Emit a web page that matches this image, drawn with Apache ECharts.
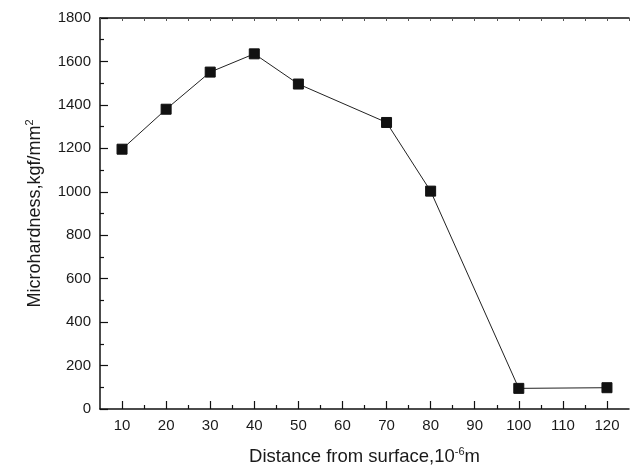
<!DOCTYPE html>
<html>
<head>
<meta charset="utf-8">
<script src="https://cdn.jsdelivr.net/npm/echarts@6/dist/echarts.min.js"></script>
<style>html,body{margin:0;padding:0;background:#fff}#c{width:630px;height:468px}</style>
</head>
<body>
<div id="c"></div>
<script>
const distance = [10, 20, 30, 40, 50, 70, 80, 100, 120];
const hardness = [1196, 1380, 1551, 1635, 1496, 1319, 1003, 95, 98];
const xTicks = [10, 20, 30, 40, 50, 60, 70, 80, 90, 100, 110, 120];
const xMinorTicks = [15, 25, 35, 45, 55, 65, 75, 85, 95, 105, 115];
const yTicks = [0, 200, 400, 600, 800, 1000, 1200, 1400, 1600, 1800];

const FONT = 'Liberation Sans, Arial, sans-serif';
const chart = echarts.init(document.getElementById('c'), null, {renderer: 'canvas'});
const lineCol = '#111';
chart.setOption({
  animation: false,
  backgroundColor: '#fff',
  grid: {left: 100, right: 1, top: 18, bottom: 59, containLabel: false, outerBoundsMode: 'none'},
  xAxis: [
    {
      type: 'value', min: 5, max: 125, position: 'bottom',
      axisLine: {show: true, onZero: false, lineStyle: {color: lineCol, width: 1.5}},
      axisTick: {show: true, inside: true, length: 8, customValues: xTicks, lineStyle: {color: lineCol, width: 1.2}},
      axisLabel: {show: true, customValues: xTicks, margin: 9, fontFamily: FONT, fontSize: 15, color: '#1a1a1a', formatter: v => String(v)},
      splitLine: {show: false},
      name: '{a|Distance from surface,10}{s|-6}{a|m}',
      nameLocation: 'middle', nameGap: 37,
      nameTextStyle: {
        fontFamily: FONT, color: '#1a1a1a',
        rich: {
          a: {fontFamily: FONT, fontSize: 18.5, color: '#1a1a1a', lineHeight: 20, verticalAlign: 'bottom'},
          s: {fontFamily: FONT, fontSize: 11, color: '#1a1a1a', lineHeight: 20, verticalAlign: 'top'}
        }
      }
    },
    {
      type: 'value', min: 5, max: 125, position: 'bottom',
      axisLine: {show: false, onZero: false},
      axisTick: {show: true, inside: true, length: 4, customValues: xMinorTicks, lineStyle: {color: lineCol, width: 1.2}},
      axisLabel: {show: false},
      splitLine: {show: false}
    },
    {
      type: 'value', min: 5, max: 125, interval: 5, position: 'top',
      axisLine: {show: true, onZero: false, lineStyle: {color: lineCol, width: 1.5}},
      axisTick: {show: true, inside: true, length: 3, lineStyle: {color: '#555', width: 1}},
      axisLabel: {show: false},
      splitLine: {show: false}
    }
  ],
  yAxis: [
    {
      type: 'value', min: 0, max: 1800, interval: 200, position: 'left',
      axisLine: {show: true, onZero: false, lineStyle: {color: lineCol, width: 1.5}},
      axisTick: {show: true, inside: true, length: 8, lineStyle: {color: lineCol, width: 1.2}},
      minorTick: {show: true, splitNumber: 2, length: 4, lineStyle: {color: lineCol, width: 1.2}},
      axisLabel: {show: true, customValues: yTicks, margin: 9, fontFamily: FONT, fontSize: 15, color: '#1a1a1a', formatter: v => String(v)},
      splitLine: {show: false},
      name: '{a|Microhardness,kgf/mm}{s|2}',
      nameLocation: 'middle', nameGap: 56, nameRotate: 90,
      nameTextStyle: {
        fontFamily: FONT, color: '#1a1a1a',
        rich: {
          a: {fontFamily: FONT, fontSize: 18, color: '#1a1a1a', lineHeight: 20, verticalAlign: 'bottom'},
          s: {fontFamily: FONT, fontSize: 11, color: '#1a1a1a', lineHeight: 20, verticalAlign: 'top'}
        }
      }
    }
  ],
  series: [{
    type: 'line',
    xAxisIndex: 0, yAxisIndex: 0,
    data: distance.map((d, i) => [d, hardness[i]]),
    symbol: 'rect', symbolSize: 10,
    lineStyle: {color: '#222', width: 1},
    itemStyle: {color: '#111', borderColor: '#111'},
    showSymbol: true
  }]
});
</script>
</body>
</html>
